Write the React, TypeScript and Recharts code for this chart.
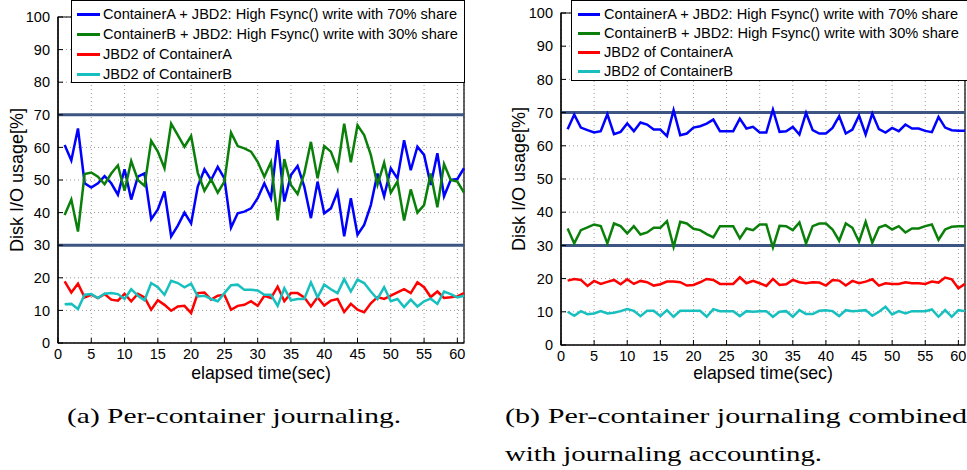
import React from "react";
import {
  CartesianGrid,
  Label,
  Line,
  LineChart,
  ReferenceArea,
  ReferenceLine,
  XAxis,
  YAxis,
} from "recharts";

// elapsed time (sec)
const TIME = [
  1, 2, 3, 4, 5, 6, 7, 8, 9, 10, 11, 12, 13, 14, 15, 16, 17, 18, 19, 20, 21,
  22, 23, 24, 25, 26, 27, 28, 29, 30, 31, 32, 33, 34, 35, 36, 37, 38, 39, 40,
  41, 42, 43, 44, 45, 46, 47, 48, 49, 50, 51, 52, 53, 54, 55, 56, 57, 58, 59,
  60, 61,
];
const X_TICKS = [0, 5, 10, 15, 20, 25, 30, 35, 40, 45, 50, 55, 60];
const Y_TICKS = [0, 10, 20, 30, 40, 50, 60, 70, 80, 90, 100];
const SHARE_LINES = [70, 30];

// (a) per-container journaling
const A_CONT_A = [
  60.7, 56, 65.8, 49, 47.7, 49, 51.2, 49, 45.5, 53.3, 44, 51, 52, 38, 41, 46.5,
  32.7, 36, 40, 36.7, 48, 53.3, 50, 54, 50.5, 35.4, 39.8, 40.3, 41.3, 44.4, 49,
  44.4, 62.2, 43.4, 51.5, 54.3, 48, 38.3, 49.5, 39.8, 41.3, 46.4, 32.7, 44.4,
  33.2, 36.2, 42.3, 52, 45, 53.6, 50.5, 62.2, 53, 60.2, 57.7, 48.5, 58.2, 45,
  50, 50.3, 53.6,
];
const A_CONT_B = [
  39.3, 44, 34.2, 51.8, 52.3, 51, 48.7, 52, 54.5, 46.7, 55.8, 50, 48.2, 62,
  58.7, 53.6, 67.3, 63.8, 60.2, 63.5, 52.2, 46.7, 50.2, 46.1, 49.5, 64.5, 60.4,
  59.7, 58.7, 55.6, 51, 55.5, 37.6, 56.4, 48.5, 45.7, 52, 61.7, 50.5, 60.4,
  58.7, 53.3, 67.3, 55.4, 66.8, 63.8, 57.7, 48.5, 55.3, 46.1, 49.5, 37.6, 47.1,
  40, 42.3, 52, 41.6, 54.9, 50, 49.5, 46.1,
];
const A_JBD2_A = [
  18.9, 15.5, 18.2, 14, 14.8, 13.8, 15, 13.3, 13, 15.1, 12.8, 15.1, 14, 10.2,
  13.1, 11.7, 9.9, 11.2, 11.4, 9.2, 15.3, 15.5, 13.3, 14.5, 14.8, 10.2, 11.4,
  11.7, 12.8, 11.4, 14.5, 13.8, 17.3, 12.8, 15.3, 15.3, 14, 11.2, 14, 11.5, 13,
  13.5, 9.5, 12, 10.2, 9.4, 12.2, 14.1, 13.5, 14.5, 15.5, 16.5, 15.3, 18.6,
  17.1, 14.1, 15.8, 13.8, 14, 14.3, 15.3,
];
const A_JBD2_B = [
  11.9, 12, 10.4, 14.8, 15, 13.8, 15.1, 15.3, 15, 13.5, 16.5, 14.5, 13.1, 18.4,
  17.1, 14.8, 19.1, 18.4, 17.1, 18.2, 14.3, 14.5, 13.5, 12.8, 15.3, 17.7, 17.9,
  16.3, 16.3, 16.1, 14.8, 14.8, 11.4, 16.8, 13.1, 13.5, 13.5, 18.6, 14, 17.9,
  16.5, 15.3, 19.6, 15.8, 19.4, 18.4, 15.8, 13.5, 17.1, 12.8, 13.5, 11, 13.3,
  11.2, 12.8, 13.6, 12, 15.8, 15, 14, 14.5,
];

// (b) combined with journaling accounting
const B_CONT_A = [
  65, 69.4, 65.5, 64.7, 64, 64.4, 69.5, 63.5, 64.2, 66.7, 64.4, 67, 66.4, 64.9,
  64.9, 62.9, 70.7, 63.2, 63.7, 65.5, 65.9, 66.7, 67.9, 64.4, 64.4, 64.4, 68.2,
  65.2, 65.7, 64, 64, 70.9, 64.2, 64.4, 65.7, 63.4, 69.9, 64.7, 63.7, 63.7,
  65.4, 68.9, 63.7, 64.9, 69.1, 63.4, 69.7, 65, 64, 65.4, 64.4, 66.4, 65.2,
  65.2, 64.5, 64.1, 68.7, 65.5, 64.7, 64.5, 64.5,
];
const B_CONT_B = [
  35.1, 30.6, 34.6, 35.4, 36.3, 35.8, 30.6, 36.6, 35.8, 33.6, 35.8, 33.3, 33.9,
  35.3, 35.3, 37.3, 29.6, 37.1, 36.6, 35, 34.6, 33.4, 32.4, 35.8, 35.8, 35.8,
  32.1, 35.1, 34.6, 36.3, 36.3, 29.4, 35.9, 35.8, 34.6, 36.9, 30.6, 35.8, 36.6,
  36.6, 34.8, 31.4, 36.6, 35.3, 31.1, 37.1, 30.8, 35.4, 36.1, 34.8, 35.8, 33.9,
  35.1, 35.1, 35.8, 36.3, 31.7, 34.8, 35.6, 35.8, 35.8,
];
const B_JBD2_A = [
  19.4, 19.9, 19.6, 17.8, 19.3, 18.4, 19, 19.6, 18.3, 19.8, 18.4, 19.3, 18.9,
  17.9, 18.3, 19.1, 19.1, 18.9, 17.9, 18.1, 18.9, 19.9, 19.6, 18.4, 18.4, 18.4,
  20.4, 18.6, 19.3, 18.6, 17.8, 19.9, 18.1, 18.3, 19.6, 18.9, 18.6, 18.9, 18.8,
  17.9, 19.6, 19.4, 17.9, 19.3, 18.6, 19.1, 19.8, 17.9, 18.6, 18.4, 18.4, 18.9,
  18.6, 18.6, 18.4, 19.1, 18.8, 20.3, 19.8, 17.1, 18.4,
];
const B_JBD2_B = [
  10, 8.8, 10.2, 9.3, 9.5, 10.2, 9.5, 9.7, 10.2, 10.8, 10.3, 8.7, 10.3, 10.3,
  8.7, 10.5, 8.5, 10.3, 10.3, 10.3, 10.3, 8.5, 10.8, 10.2, 10.2, 10.2, 8.7,
  10.2, 10, 10.2, 10.2, 8.5, 10, 10.2, 8.5, 10.5, 9.3, 9.3, 10.3, 10.5, 10.2,
  8.7, 10.5, 10.2, 10.3, 10.5, 8.8, 10, 11.5, 9.2, 10.2, 9.5, 10.2, 10.2, 10.2,
  10.7, 8.5, 10.5, 8.5, 10.5, 10.2,
];

const SERIES = [
  { key: "contA", name: "ContainerA + JBD2: High Fsync() write with 70% share", color: "#0000ff" },
  { key: "contB", name: "ContainerB + JBD2: High Fsync() write with 30% share", color: "#0a800a" },
  { key: "jbdA", name: "JBD2 of ContainerA", color: "#ff0000" },
  { key: "jbdB", name: "JBD2 of ContainerB", color: "#17bfbf" },
];

const SANS = "'Liberation Sans', Arial, sans-serif";
const SERIF = "Liberation Serif";
const SHARE_COLOR = "#3d5583";

const toRows = (a: number[], b: number[], ja: number[], jb: number[]) =>
  TIME.map((t, i) => ({ t, contA: a[i], contB: b[i], jbdA: ja[i], jbdB: jb[i] }));

const ROWS_A = toRows(A_CONT_A, A_CONT_B, A_JBD2_A, A_JBD2_B);
const ROWS_B = toRows(B_CONT_A, B_CONT_B, B_JBD2_A, B_JBD2_B);

const yLabel = (dx: number) => (props: any) => {
  const vb = props.viewBox;
  const cx = vb.x + dx;
  const cy = vb.y + vb.height / 2;
  return (
    <text
      x={cx}
      y={cy}
      transform={`rotate(-90 ${cx} ${cy})`}
      textAnchor="middle"
      dominantBaseline="central"
      fontSize={18}
      fill="#000"
    >
      Disk I/O usage[%]
    </text>
  );
};

const xLabel = (dy: number) => (props: any) => {
  const vb = props.viewBox;
  return (
    <text
      x={vb.x + vb.width / 2}
      y={vb.y + dy}
      textAnchor="middle"
      dominantBaseline="central"
      fontSize={17.7}
      fill="#000"
    >
      elapsed time(sec)
    </text>
  );
};

type Layout = {
  left: number;
  width: number;
  margin: { top: number; right: number; bottom: number; left: number };
  yAxisWidth: number;
  yLabelX: number;
  xLabelDy: number;
  legend: { left: number; top: number; width: number; height: number; rowTop: number; rowGap: number; lineLeft: number; lineWidth: number; textLeft: number };
};

function LegendBox({ lg }: { lg: Layout["legend"] }) {
  return (
    <div
      style={{
        position: "absolute",
        left: lg.left,
        top: lg.top,
        width: lg.width,
        height: lg.height,
        boxSizing: "border-box",
        border: "1.5px solid #000",
        background: "#fff",
        fontFamily: SANS,
        fontSize: 14.6,
      }}
    >
      {SERIES.map((s, i) => (
        <div
          key={s.key}
          style={{
            position: "absolute",
            left: 0,
            top: lg.rowTop + i * lg.rowGap - 10,
            height: 20,
            width: "100%",
          }}
        >
          <span
            style={{
              position: "absolute",
              left: lg.lineLeft,
              top: 9,
              width: lg.lineWidth,
              height: 2.5,
              background: s.color,
            }}
          />
          <span
            style={{
              position: "absolute",
              left: lg.textLeft,
              top: 0,
              lineHeight: "20px",
              whiteSpace: "nowrap",
              color: "#000",
            }}
          >
            {s.name}
          </span>
        </div>
      ))}
    </div>
  );
}

function Panel({ rows, layout }: { rows: any[]; layout: Layout }) {
  return (
    <div style={{ position: "absolute", left: layout.left, top: 0, width: layout.width, height: 400 }}>
      <LineChart
        width={layout.width}
        height={400}
        data={rows}
        margin={layout.margin}
        style={{ fontFamily: SANS }}
      >
        <CartesianGrid stroke="#9a9a9a" strokeDasharray="1 3" strokeWidth={1} />
        <XAxis
          dataKey="t"
          type="number"
          domain={[0, 61]}
          ticks={X_TICKS}
          interval={0}
          height={40}
          tickLine={{ stroke: "#000" }}
          tickSize={-5}
          tickMargin={11}
          axisLine={{ stroke: "#000", strokeWidth: 1.2 }}
          tick={{ fontSize: 14.5, fill: "#000" }}
        >
          <Label content={xLabel(layout.xLabelDy)} />
        </XAxis>
        <YAxis
          type="number"
          domain={[0, 100]}
          ticks={Y_TICKS}
          interval={0}
          width={layout.yAxisWidth}
          tickLine={{ stroke: "#000" }}
          tickSize={-5}
          tickMargin={13}
          axisLine={{ stroke: "#000", strokeWidth: 1.2 }}
          tick={{ fontSize: 14.5, fill: "#000" }}
        >
          <Label content={yLabel(layout.yLabelX)} />
        </YAxis>
        <ReferenceArea x1={0} x2={61} y1={0} y2={100} fill="none" stroke="#000" strokeWidth={1.2} />
        {SHARE_LINES.map((v) => (
          <ReferenceLine key={v} y={v} stroke={SHARE_COLOR} strokeWidth={3} />
        ))}
        {SERIES.map((s) => (
          <Line
            key={s.key}
            dataKey={s.key}
            name={s.name}
            stroke={s.color}
            strokeWidth={2.5}
            dot={false}
            type="linear"
            isAnimationActive={false}
          />
        ))}
      </LineChart>
      <LegendBox lg={layout.legend} />
    </div>
  );
}

const LAYOUT_A: Layout = {
  left: 0,
  width: 480,
  margin: { top: 17, right: 16, bottom: 17, left: 0 },
  yAxisWidth: 58,
  yLabelX: 17,
  xLabelDy: 30,
  legend: { left: 71, top: 0, width: 394, height: 83, rowTop: 13, rowGap: 20, lineLeft: 5, lineWidth: 23, textLeft: 31 },
};

const LAYOUT_B: Layout = {
  left: 480,
  width: 487,
  margin: { top: 13, right: 2, bottom: 15, left: 0 },
  yAxisWidth: 81,
  yLabelX: 39,
  xLabelDy: 28,
  legend: { left: 91, top: 0, width: 410, height: 81, rowTop: 13, rowGap: 19, lineLeft: 6, lineWidth: 22, textLeft: 32 },
};

const captionStyle = { fontFamily: SERIF, fontSize: 22 };

export default function App() {
  return (
    <div
      style={{
        position: "absolute",
        left: 0,
        top: 0,
        width: 967,
        height: 470,
        overflow: "hidden",
        background: "#fff",
      }}
    >
      <Panel rows={ROWS_A} layout={LAYOUT_A} />
      <Panel rows={ROWS_B} layout={LAYOUT_B} />
      <svg width={967} height={85} style={{ position: "absolute", left: 0, top: 385 }}>
        <text x={67} y={38} fill="#000" style={captionStyle} textLength={334} lengthAdjust="spacingAndGlyphs">
          (a) Per-container journaling.
        </text>
        <text x={505} y={38} fill="#000" style={captionStyle} textLength={462} lengthAdjust="spacingAndGlyphs">
          (b) Per-container journaling combined
        </text>
        <text x={505} y={76} fill="#000" style={captionStyle} textLength={317} lengthAdjust="spacingAndGlyphs">
          with journaling accounting.
        </text>
      </svg>
    </div>
  );
}
